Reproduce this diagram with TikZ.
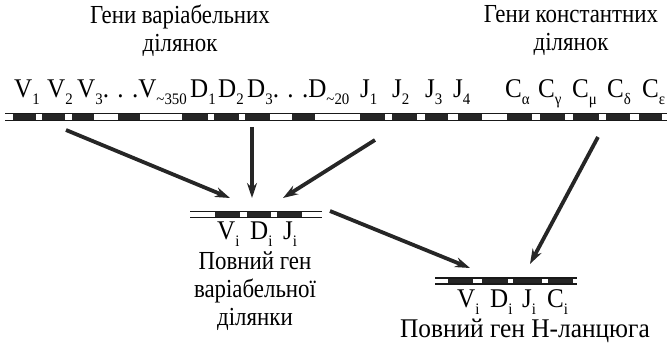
\documentclass[tikz,border=0pt]{standalone}
\usepackage{fontspec}
\setmainfont{Liberation Serif}
\newfontfamily\titlefont[FakeStretch=0.88]{Liberation Serif}
\newfontfamily\widetitlefont[FakeStretch=0.94]{Liberation Serif}
\newfontfamily\labelfont[FakeStretch=0.93]{Liberation Serif}
\usetikzlibrary{arrows.meta}
\newcommand\subl[1]{\raisebox{-6.5pt}{\fontsize{16pt}{16pt}\selectfont #1}}
\tikzset{
  title/.style={font=\titlefont\fontsize{26pt}{28pt}\selectfont, align=center, inner sep=0pt},
  genelabel/.style={font=\labelfont\fontsize{27pt}{27pt}\selectfont, anchor=base west, inner sep=0pt},
  strandline/.style={line width=1.3pt, draw=black!90},
  segbox/.style={fill=black!85, draw=none},
  bigarrow/.style={line width=3.8pt, draw=black!85, -{Stealth[length=15pt,width=10pt]}}
}
\newcommand\strand[5]{% x1 x2 ytop ybot boxes
  \foreach \a/\b in {#5} {\fill[segbox] (\a,#3) rectangle (\b,#4);}
  \draw[strandline] (#1,#3) -- (#2,#3);
  \draw[strandline] (#1,#4) -- (#2,#4);
}
\begin{document}
\begin{tikzpicture}[x=1pt,y=-1pt]
\useasboundingbox (0,0) rectangle (667,344);
% titles
\node[title] (tv) at (180,31) {Гени варіабельних\\ділянок};
\node[title] (tc) at (571,31) {Гени константних\\ділянок};
% main strand
\strand{5}{667}{113.5}{120.5}{13/36,42/65,72/94,118/140,182/208,214/239,245/270,292/315,360/385,392/417,425/448,458/482,507/532,540/565,573/599,606/630,639/662}
% labels
\node[genelabel] (v1) at (14,98) {V\subl{1}};
\node[genelabel] (v2) at (47,98) {V\subl{2}};
\node[genelabel] (v3) at (77,98) {V\subl{3}. . .V\subl{\textasciitilde 350}};
\node[genelabel] (d1) at (190,98) {D\subl{1}};
\node[genelabel] (d2) at (218,98) {D\subl{2}};
\node[genelabel] (d3) at (247,98) {D\subl{3}. . .D\subl{\textasciitilde 20}};
\node[genelabel] (j1) at (360,98) {J\subl{1}};
\node[genelabel] (j2) at (392,98) {J\subl{2}};
\node[genelabel] (j3) at (425,98) {J\subl{3}};
\node[genelabel] (j4) at (453,98) {J\subl{4}};
\node[genelabel] (ca) at (505,98) {C\subl{α}};
\node[genelabel] (cg) at (538,98) {C\subl{γ}};
\node[genelabel] (cm) at (572,98) {C\subl{μ}};
\node[genelabel] (cd) at (607,98) {C\subl{δ}};
\node[genelabel] (ce) at (642,98) {C\subl{ε}};
% VDJ strand
\strand{190}{322}{211.5}{217.5}{215/240,247/271,277/302}
\node[genelabel] (vi) at (217,240) {V\subl{i}};
\node[genelabel] (di) at (250,240) {D\subl{i}};
\node[genelabel] (ji) at (283,240) {J\subl{i}};
\node[title] (fv) at (255,291) {Повний ген\\варіабельної\\ділянки};
% VDJC strand
\strand{435}{577}{278}{284}{448/473,482/508,513/542,548/573}
\node[genelabel] (vi2) at (457,308) {V\subl{i}};
\node[genelabel] (di2) at (490,308) {D\subl{i}};
\node[genelabel] (ji2) at (522,308) {J\subl{i}};
\node[genelabel] (ci2) at (547,308) {C\subl{i}};
\node[title, font=\widetitlefont\fontsize{27pt}{28pt}\selectfont] (fh) at (525,331) {Повний ген Н-ланцюга};
% arrows
\coordinate (a1s) at (66,130);  \coordinate (a1e) at (230,198);
\coordinate (a2s) at (252,127); \coordinate (a2e) at (252,198);
\coordinate (a3s) at (375,140); \coordinate (a3e) at (283,198);
\coordinate (a4s) at (330,211); \coordinate (a4e) at (470,268);
\coordinate (a5s) at (598,137); \coordinate (a5e) at (530,264);
\draw[bigarrow] (a1s) -- (a1e);
\draw[bigarrow] (a2s) -- (a2e);
\draw[bigarrow] (a3s) -- (a3e);
\draw[bigarrow] (a4s) -- (a4e);
\draw[bigarrow] (a5s) -- (a5e);
\end{tikzpicture}
\end{document}
